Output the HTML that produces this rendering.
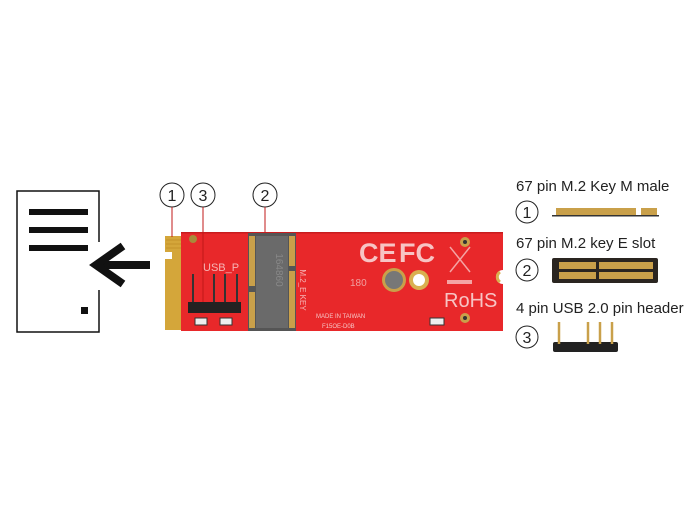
<!DOCTYPE html>
<html><head><style>html,body{margin:0;padding:0;background:#fff;width:700px;height:530px;overflow:hidden}svg{display:block}text{font-family:"Liberation Sans",sans-serif}</style></head>
<body>
<svg width="700" height="530" viewBox="0 0 700 530">
<path d="M99,242 V191 H17 V332 H99 V290" fill="none" stroke="#111" stroke-width="1.5"/>
<rect x="29" y="209" width="59" height="6" fill="#111"/>
<rect x="29" y="227" width="59" height="6" fill="#111"/>
<rect x="29" y="245" width="59" height="6" fill="#111"/>
<rect x="81" y="307" width="7" height="7" fill="#111"/>
<rect x="100" y="261" width="50" height="8" fill="#111"/>
<polyline points="123,246 96,265 123,284" fill="none" stroke="#111" stroke-width="8"/>
<g fill="#fff" stroke="#222" stroke-width="1">
<circle cx="172" cy="195" r="12"/><circle cx="203" cy="195" r="12"/><circle cx="265" cy="195" r="12"/>
</g>
<g font-size="16" fill="#222" text-anchor="middle">
<text x="172" y="201">1</text><text x="203" y="201">3</text><text x="265" y="201">2</text></g>
<path d="M165,236 H182 V330 H165 V259 H172 V252 H165 Z" fill="#d4a63a"/>
<g stroke="#b8861e" stroke-width="0.6">
<line x1="166" y1="240" x2="181" y2="240"/><line x1="166" y1="244" x2="181" y2="244"/><line x1="166" y1="248" x2="181" y2="248"/>
</g>
<path d="M181,232 H503 V270 A7,7 0 0 0 503,284 V331 H181 Z" fill="#e8282a"/>
<rect x="181" y="232" width="322" height="1.5" fill="#c81c1e"/>
<g stroke="#c01818" stroke-width="1"><line x1="172" y1="207" x2="172" y2="237"/><line x1="203" y1="207" x2="203" y2="305"/><line x1="265" y1="207" x2="265" y2="232"/></g>
<rect x="248" y="233" width="48" height="98" fill="#555"/>
<rect x="256" y="236" width="32" height="92" fill="#6a6a6a"/>
<rect x="249" y="236" width="6" height="50" fill="#c9a04a"/>
<rect x="249" y="292" width="6" height="36" fill="#c9a04a"/>
<rect x="289" y="236" width="6" height="30" fill="#c9a04a"/>
<rect x="289" y="271" width="6" height="57" fill="#c9a04a"/>
<text x="276" y="270" font-size="10" fill="#888" transform="rotate(90 276 270)" text-anchor="middle">164860</text>
<text x="203" y="271" font-size="11" fill="#f6b5b5">USB_P</text>
<rect x="188" y="302" width="53" height="11" fill="#222"/>
<g stroke="#333" stroke-width="2"><line x1="193" y1="274" x2="193" y2="302"/><line x1="214" y1="274" x2="214" y2="302"/><line x1="225" y1="274" x2="225" y2="302"/><line x1="237" y1="274" x2="237" y2="302"/></g>
<rect x="195" y="318" width="12" height="7" fill="#eee" stroke="#333"/>
<rect x="220" y="318" width="12" height="7" fill="#eee" stroke="#333"/>
<circle cx="193" cy="239" r="4" fill="#a88a3a"/>
<text x="300" y="290" font-size="8" fill="#f6b5b5" transform="rotate(90 300 290)" text-anchor="middle">M.2_E KEY</text>
<text x="316" y="318" font-size="6" fill="#f6c5c5">MADE IN TAIWAN</text>
<text x="322" y="328" font-size="6" fill="#f6c5c5">F15OE-D0B</text>
<text x="359" y="262" font-size="27" fill="#f7c4c4" font-weight="bold">CE</text>
<text x="399" y="262" font-size="27" fill="#f7c4c4" font-weight="bold">FC</text>
<text x="350" y="286" font-size="10" fill="#f0a0a0">180</text>
<circle cx="394" cy="280" r="12" fill="#c9a04a"/><circle cx="394" cy="280" r="9" fill="#777"/>
<circle cx="419" cy="280" r="10" fill="#d9b050"/><circle cx="419" cy="280" r="6" fill="#fff"/>
<circle cx="465" cy="242" r="5" fill="#c9a04a"/><circle cx="465" cy="242" r="2" fill="#333"/>
<circle cx="465" cy="318" r="5" fill="#c9a04a"/><circle cx="465" cy="318" r="2" fill="#333"/>
<path d="M500,272 A6,6 0 0 0 500,282" fill="none" stroke="#d9b050" stroke-width="3"/>
<rect x="447" y="280" width="25" height="4" fill="#f4a4a4"/>
<text x="444" y="307" font-size="20" fill="#f7c4c4">RoHS</text>
<path d="M450,247 L470,272 M470,247 L450,272" stroke="#f4a4a4" stroke-width="1.5"/>
<rect x="430" y="318" width="14" height="7" fill="#eee" stroke="#333"/>
<g font-size="15" fill="#222">
<text x="516" y="191">67 pin M.2 Key M male</text>
<text x="516" y="248">67 pin M.2 key E slot</text>
<text x="516" y="313">4 pin USB 2.0 pin header</text></g>
<g fill="#fff" stroke="#222" stroke-width="1">
<circle cx="527" cy="212" r="11"/><circle cx="527" cy="270" r="11"/><circle cx="527" cy="337" r="11"/></g>
<g font-size="16" fill="#222" text-anchor="middle">
<text x="527" y="218">1</text><text x="527" y="276">2</text><text x="527" y="343">3</text></g>
<rect x="556" y="208" width="80" height="7" fill="#c9a04a"/>
<rect x="641" y="208" width="16" height="7" fill="#c9a04a"/>
<rect x="552" y="215" width="107" height="1.5" fill="#333"/>
<rect x="552" y="258" width="106" height="25" rx="2" fill="#2a2520"/>
<rect x="559" y="262" width="37" height="7" fill="#c9a04a"/><rect x="559" y="272" width="37" height="7" fill="#c9a04a"/>
<rect x="599" y="262" width="54" height="7" fill="#c9a04a"/><rect x="599" y="272" width="54" height="7" fill="#c9a04a"/>
<rect x="553" y="342" width="65" height="10" rx="2" fill="#222"/>
<g stroke="#c9a04a" stroke-width="2.5"><line x1="559" y1="322" x2="559" y2="344"/><line x1="588" y1="322" x2="588" y2="344"/><line x1="600" y1="322" x2="600" y2="344"/><line x1="612" y1="322" x2="612" y2="344"/></g>
</svg>
</body></html>
